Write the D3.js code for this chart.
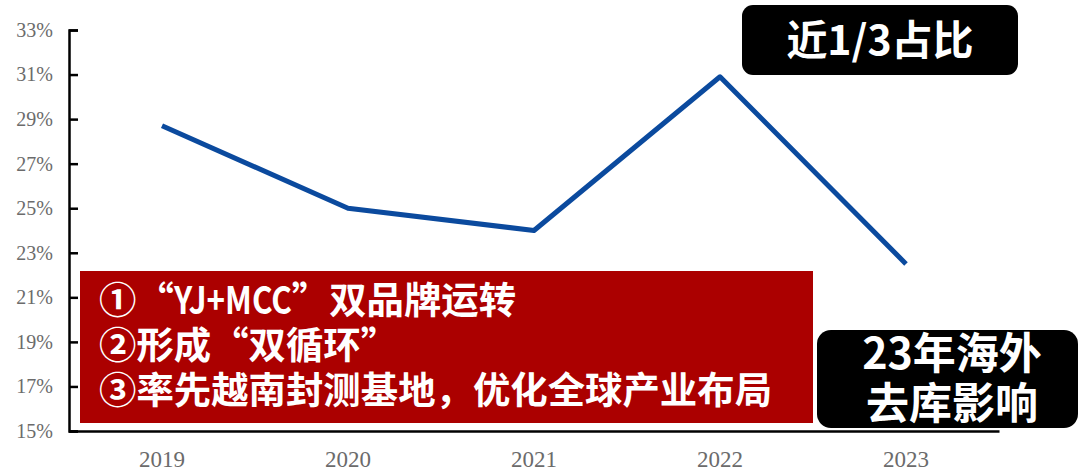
<!DOCTYPE html>
<html>
<head>
<meta charset="utf-8">
<script src="https://cdn.jsdelivr.net/npm/d3@7"></script>
<style>
  html, body { margin: 0; padding: 0; background: #fff; }
  #wrap { position: relative; width: 1081px; height: 471px; }
  svg { display: block; }
  .overlay {
    position: absolute;
    color: #fff;
    font-family: 'Noto Sans CJK SC', 'Noto Sans', sans-serif;
    font-weight: bold;
    white-space: nowrap;
  }
  .narrow { display: inline-block; vertical-align: baseline; overflow: visible; }
  .narrow > span { display: inline-block; transform-origin: 0 0; }
</style>
</head>
<body>
<div id="wrap"><svg id="chart" width="1081" height="471"></svg></div>
<script>
// Share by year
const years = ["2019", "2020", "2021", "2022", "2023"];
const shares = [28.7, 25.0, 24.0, 30.9, 22.5];
const yTicks = [15, 17, 19, 21, 23, 25, 27, 29, 31, 33];

// each note line split into runs; latin runs are set in a condensed width
const notes = [
  [{t: "①“"}, {t: "YJ+MCC", w: 118}, {t: "”双品牌运转"}],
  [{t: "②形成“双循环”"}],
  [{t: "③率先越南封测基地，优化全球产业布局"}]
];
const topNote = "近1/3占比";
const sideNote = ["23年海外", "去库影响"];

const svg = d3.select("#chart");
const wrap = d3.select("#wrap");

const x = d3.scaleBand().domain(years).range([69, 999]);
const y = d3.scaleLinear().domain([15, 33]).range([431, 30]);

const serif = "'Liberation Serif', 'DejaVu Serif', serif";
const cjk = "'Noto Sans CJK SC', 'Noto Sans', sans-serif";

// y axis: ticks pointing inward
const yAxis = svg.append("g")
  .attr("transform", "translate(69,0)")
  .call(d3.axisLeft(y).tickValues(yTicks).tickSize(-9).tickPadding(16)
    .tickFormat(d => d + "%"));
yAxis.select(".domain").attr("stroke", "#000").attr("stroke-width", 2.5);
yAxis.selectAll(".tick line").attr("stroke", "#000").attr("stroke-width", 2.5);
yAxis.selectAll(".tick text")
  .attr("fill", "#6b6b6b")
  .style("font-family", serif)
  .style("font-size", "20px");

// x axis
const xAxis = svg.append("g")
  .attr("transform", "translate(0,431)")
  .call(d3.axisBottom(x).tickSize(0).tickPadding(20));
xAxis.select(".domain").attr("stroke", "#000").attr("stroke-width", 2.5);
xAxis.selectAll(".tick text")
  .attr("fill", "#6b6b6b")
  .style("font-family", serif)
  .style("font-size", "23px");

// series line
const line = d3.line()
  .x((d, i) => x(years[i]) + x.bandwidth() / 2)
  .y(d => y(d));
svg.append("path")
  .datum(shares)
  .attr("d", line)
  .attr("fill", "none")
  .attr("stroke", "#0B4A9E")
  .attr("stroke-width", 5)
  .attr("stroke-linejoin", "round");

// red callout with three points
svg.append("rect")
  .attr("x", 80).attr("y", 271).attr("width", 733).attr("height", 152)
  .attr("fill", "#AB0000");
const noteBlock = wrap.append("div")
  .attr("class", "overlay")
  .style("left", "99px")
  .style("top", "276px")
  .style("font-size", "37.4px")
  .style("line-height", "45px");
notes.forEach((runs, i) => {
  if (i > 0) noteBlock.append("br");
  runs.forEach(r => {
    if (!r.w) { noteBlock.append("span").text(r.t); return; }
    // condensed run: measure natural width, then squeeze horizontally
    const box = noteBlock.append("span").attr("class", "narrow");
    const inner = box.append("span").text(r.t);
    const natural = inner.node().getBoundingClientRect().width;
    box.style("width", r.w + "px");
    inner.style("transform", `scaleX(${r.w / natural})`);
  });
});

// top black tag
svg.append("rect")
  .attr("x", 742).attr("y", 5).attr("width", 276).attr("height", 70)
  .attr("rx", 11).attr("fill", "#000");
svg.append("text")
  .attr("x", 880).attr("y", 55)
  .attr("text-anchor", "middle")
  .attr("fill", "#fff")
  .style("font-family", cjk)
  .style("font-weight", "bold")
  .style("font-size", "41px")
  .text(topNote);

// bottom-right black tag, two centred lines
svg.append("rect")
  .attr("x", 817).attr("y", 330).attr("width", 261).attr("height", 98)
  .attr("rx", 14).attr("fill", "#000");
const sideBlock = wrap.append("div")
  .attr("class", "overlay")
  .style("left", "832px")
  .style("width", "240px")
  .style("top", "325px")
  .style("text-align", "center")
  .style("font-size", "43px")
  .style("line-height", "50px");
sideNote.forEach((s, i) => {
  if (i > 0) sideBlock.append("br");
  sideBlock.append("span").text(s);
});
</script>
</body>
</html>
